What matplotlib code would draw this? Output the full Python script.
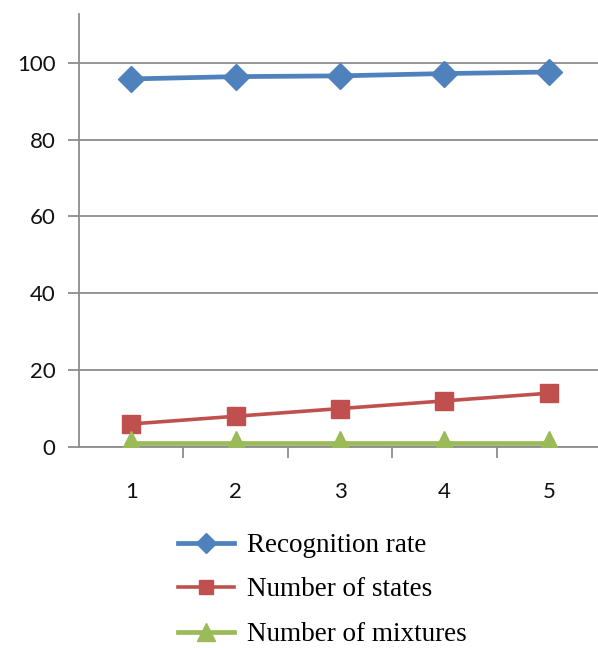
import numpy as np
import matplotlib.pyplot as plt

runs = [1, 2, 3, 4, 5]
recognition_rate = [95.8, 96.4, 96.6, 97.2, 97.6]
num_states = [6, 8, 10, 12, 14]
num_mixtures = [1, 1, 1, 1, 1]
yticks = [0, 20, 40, 60, 80, 100]

blue = "#4F81BD"
red = "#C0504D"
green = "#9BBB59"
grid_gray = "#8C8C8C"

fig = plt.figure(figsize=(5.98, 6.48), dpi=100)
ax = fig.add_axes([79/598, 1 - 447/648, (601 - 79)/598, (447 - 14)/648])

ax.plot(runs, recognition_rate, color=blue, lw=3.4, marker="D", ms=13,
        label="Recognition rate", zorder=3)
ax.plot(runs, num_states, color=red, lw=2.6, marker="s", ms=13.5,
        label="Number of states", zorder=3)
ax.plot(runs, num_mixtures, color=green, lw=3.4, marker="^", ms=17,
        label="Number of mixtures", zorder=3)

ax.set_xlim(0.5, 5.5)
ax.set_ylim(0, 112.7)
ax.set_yticks(yticks)
ax.set_xticks(runs)
ax.set_xticks(np.arange(1.5, 5.5, 1), minor=True)
ax.yaxis.grid(True, color=grid_gray, lw=1.3)
ax.set_axisbelow(True)

for side in ["top", "right"]:
    ax.spines[side].set_visible(False)
for side in ["left", "bottom"]:
    ax.spines[side].set_color(grid_gray)
    ax.spines[side].set_linewidth(1.3)

ax.tick_params(axis="y", which="major", length=8, width=1.3, color=grid_gray,
               labelsize=16, pad=9)
ax.tick_params(axis="x", which="major", length=0, labelsize=16, pad=25)
ax.tick_params(axis="x", which="minor", length=8, width=1.3, color=grid_gray)
for lab in ax.get_xticklabels() + ax.get_yticklabels():
    lab.set_fontfamily("Lato")
    lab.set_color("#111111")

fig.legend(loc="upper left", bbox_to_anchor=(178/598, 1 - 533/648),
           frameon=False, borderpad=0, borderaxespad=0,
           handlelength=2.05, handletextpad=0.5, labelspacing=0.72,
           prop={"family": "Liberation Serif", "size": 19.5}, markerscale=0.75)

fig.savefig("out.png", dpi=100)
